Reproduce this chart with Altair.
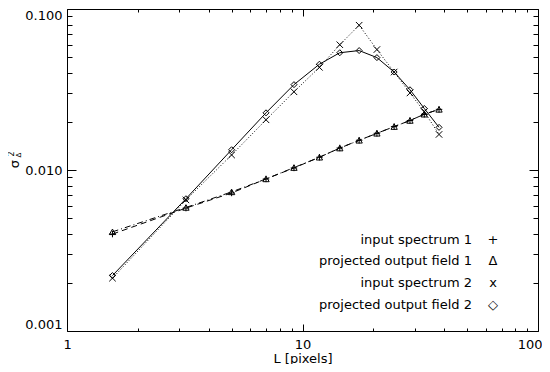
import altair as alt
import pandas as pd

# ---- data ----
L_PIX = [1.56, 3.2, 5.0, 7.0, 9.2, 11.8, 14.4, 17.4, 20.7, 24.5, 28.6, 32.9, 38.0]
INPUT_1 = [0.0040, 0.0058, 0.0072, 0.0088, 0.0103, 0.0120, 0.0137, 0.0153, 0.0169, 0.0186, 0.0203, 0.0222, 0.0238]
OUTPUT_1 = [0.00413, 0.00585, 0.00731, 0.0088, 0.01035, 0.0120, 0.01368, 0.01529, 0.0169, 0.0186, 0.0203, 0.0222, 0.0238]
INPUT_2 = [0.00213, 0.00652, 0.0124, 0.0205, 0.0306, 0.0434, 0.0600, 0.0793, 0.0560, 0.0406, 0.0301, 0.0230, 0.01663]
OUTPUT_2 = [0.00221, 0.00663, 0.01336, 0.02265, 0.0339, 0.0454, 0.0535, 0.0552, 0.0499, 0.0406, 0.0315, 0.0241, 0.0184]

LEGEND_LABELS = ["input spectrum 1", "projected output field 1", "input spectrum 2", "projected output field 2"]
LEGEND_GLYPHS = ["+", "\u0394", "x", "\u25c7"]

X_MAJOR = [1, 10, 100]
X_MINOR = [2, 3, 4, 5, 6, 7, 8, 9, 20, 30, 40, 50, 60, 70, 80, 90]
Y_MAJOR = [0.001, 0.01, 0.1]
Y_MINOR = [0.002, 0.003, 0.004, 0.005, 0.006, 0.007, 0.008, 0.009,
           0.02, 0.03, 0.04, 0.05, 0.06, 0.07, 0.08, 0.09]

W, H = 471, 322
FONT = "DejaVu Sans"
FS = 13

xs = alt.Scale(type="log", domain=[1, 100], nice=False)
ys = alt.Scale(type="log", domain=[0.001, 0.1], nice=False)


def tick_axis(orient, offset, values, size):
    return alt.Axis(orient=orient, offset=offset, values=values, ticks=True,
                    tickSize=size, tickColor="black", tickWidth=1,
                    labels=False, domain=False, grid=False, title=None)


x_label_axis = alt.Axis(orient="bottom", values=X_MAJOR, format="~g", ticks=False,
                        domain=False, grid=False, labelFont=FONT, labelFontSize=FS,
                        labelColor="black", labelPadding=7, labelFlush=True,
                        labelFlushOffset=4,
                        title="L [pixels]", titleFont=FONT, titleFontSize=FS,
                        titleFontWeight="normal", titleColor="black", titlePadding=1)
y_label_axis = alt.Axis(orient="left", values=Y_MAJOR, format=".3f", ticks=False,
                        domain=False, grid=False, labelFont=FONT, labelFontSize=FS,
                        labelColor="black", labelPadding=5, labelFlush=True, title=None)

axis_sets = [
    (x_label_axis, y_label_axis),
    (tick_axis("top", -H, X_MAJOR, 7), tick_axis("right", -W, Y_MAJOR, 9)),
    (tick_axis("top", -H, X_MINOR, 3), tick_axis("right", -W, Y_MINOR, 5)),
    (tick_axis("bottom", -H, X_MAJOR, 7), tick_axis("left", -W, Y_MAJOR, 9)),
    (tick_axis("bottom", -H, X_MINOR, 3), tick_axis("left", -W, Y_MINOR, 5)),
]

series = [
    ("input spectrum 1", INPUT_1, [6, 4], "M-1,0L1,0M0,-1L0,1", 42),
    ("projected output field 1", OUTPUT_1, [6, 3, 1, 3], "triangle-up", 40),
    ("input spectrum 2", INPUT_2, [1, 2], "M-1,-1L1,1M-1,1L1,-1", 42),
    ("projected output field 2", OUTPUT_2, None, "diamond", 36),
]

layers = []
ai = 0
for name, vals, dash, shape, size in series:
    df = pd.DataFrame({"L": L_PIX, "v": vals, "s": name})
    line_kw = dict(color="black", strokeWidth=1)
    if dash is not None:
        line_kw["strokeDash"] = dash
    for kind in ("line", "point"):
        if ai < len(axis_sets):
            xa, ya = axis_sets[ai]
        else:
            xa, ya = None, None
        ai += 1
        base = alt.Chart(df)
        if kind == "line":
            m = base.mark_line(**line_kw)
        else:
            m = base.mark_point(shape=shape, filled=False, size=size, color="black",
                                strokeWidth=1, opacity=1)
        layers.append(m.encode(
            x=alt.X("L:Q", scale=xs, axis=xa),
            y=alt.Y("v:Q", scale=ys, axis=ya),
        ))

# legend (text entries inside the plot)
ROW_Y = [230.5, 252.3, 274.1, 295.9]
for i, (lab, gl) in enumerate(zip(LEGEND_LABELS, LEGEND_GLYPHS)):
    d = pd.DataFrame({"t": [lab], "g": [gl]})
    layers.append(alt.Chart(d).mark_text(align="right", baseline="middle", font=FONT,
                                         fontSize=FS, color="black").encode(
        text="t:N", x=alt.value(405), y=alt.value(ROW_Y[i])))
    layers.append(alt.Chart(d).mark_text(align="center", baseline="middle", font=FONT,
                                         fontSize=FS, color="black").encode(
        text="g:N", x=alt.value(426), y=alt.value(ROW_Y[i])))

# y title: sigma with subscript Delta and superscript 2, rotated
ytitle = [("\u03c3", 13, -52, 155), ("\u0394", 7, -48, 146), ("2", 8, -55, 145)]
for txt, fs, px, py in ytitle:
    d = pd.DataFrame({"t": [txt]})
    layers.append(alt.Chart(d).mark_text(align="center", baseline="middle", font=FONT,
                                         fontSize=fs, angle=270, color="black").encode(
        text="t:N", x=alt.value(px), y=alt.value(py)))

chart = alt.layer(*layers).resolve_axis(x="independent", y="independent").properties(
    width=W, height=H,
    autosize=alt.AutoSizeParams(type="none"),
    padding={"left": 59, "top": 1, "right": 4, "bottom": 33},
    background="white",
).configure_view(stroke="black", strokeWidth=1)

chart.save("out.html", embed_options={"renderer": "svg", "actions": False})
